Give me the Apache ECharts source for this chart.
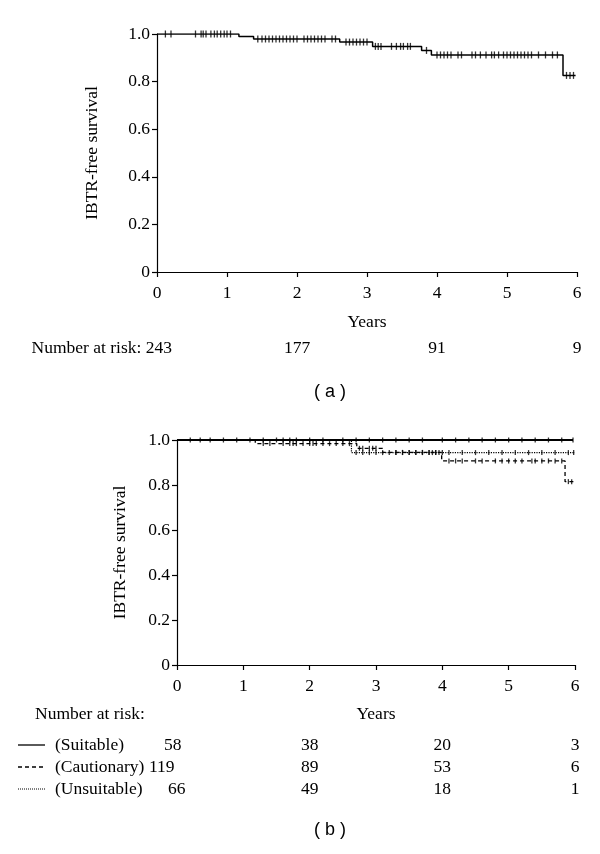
<!DOCTYPE html>
<html>
<head>
<meta charset="utf-8">
<script src="https://cdn.jsdelivr.net/npm/echarts@6/dist/echarts.min.js"></script>
<style>
html,body{margin:0;padding:0;background:#fff;}
#c{width:600px;height:854px;}
</style>
</head>
<body>
<div id="c"></div>
<script>
// ---------- data ----------
const xTicks = [0, 1, 2, 3, 4, 5, 6];

// (a) overall
const overallTimes = [0, 1.17, 1.38, 2.61, 3.08, 3.78, 3.92, 5.80, 5.98];
const overallSurv  = [1.0, 0.99, 0.979, 0.966, 0.948, 0.931, 0.912, 0.826, 0.826];
const overallCensor = [0.12, 0.2, 0.55, 0.63, 0.66, 0.7, 0.77, 0.82, 0.86, 0.91, 0.96, 1.0, 1.05,
  1.44, 1.5, 1.55, 1.6, 1.65, 1.7, 1.75, 1.8, 1.85, 1.9, 1.95, 2.0, 2.1, 2.15, 2.2, 2.25, 2.3, 2.35, 2.4, 2.5, 2.55,
  2.7, 2.75, 2.8, 2.85, 2.9, 2.95, 3.0,
  3.12, 3.16, 3.2, 3.35, 3.42, 3.48, 3.52, 3.58, 3.62, 3.85,
  4.0, 4.05, 4.1, 4.15, 4.2, 4.3, 4.35, 4.5, 4.55, 4.62, 4.7, 4.78, 4.82, 4.88, 4.95, 5.0, 5.05, 5.1,
  5.15, 5.2, 5.25, 5.3, 5.35, 5.45, 5.55, 5.65, 5.72, 5.85, 5.9, 5.95];

// (b) by group
const suitTimes = [0, 5.97];
const suitSurv  = [1.0, 1.0];
const suitCensor = [0.2, 0.35, 0.5, 0.7, 0.9, 1.1, 1.3, 1.5, 1.6, 1.7, 1.8, 2.0, 2.2, 2.5, 2.7, 2.9, 3.1, 3.3,
  3.5, 3.7, 4.0, 4.2, 4.4, 4.6, 4.8, 5.0, 5.2, 5.4, 5.6, 5.8, 5.97];

const cautTimes = [0, 1.18, 2.71, 3.1, 3.99, 5.85, 6.0];
const cautSurv  = [1.0, 0.984, 0.963, 0.945, 0.907, 0.815, 0.815];
const cautCensor = [1.3, 1.4, 1.6, 1.7, 1.75, 1.8, 1.9, 2.0, 2.05, 2.1, 2.2, 2.3, 2.4, 2.5, 2.6, 2.75, 2.8, 2.9,
  2.95, 3.0, 3.3, 3.4, 3.5, 3.6, 3.7, 3.8, 3.9, 3.95, 4.1, 4.2, 4.3, 4.5, 4.6, 4.8, 4.9, 5.0, 5.1, 5.2, 5.35,
  5.4, 5.5, 5.6, 5.7, 5.8, 5.9, 5.95];

const unsTimes = [0, 2.63, 6.0];
const unsSurv  = [1.0, 0.944, 0.944];
const unsCensor = [2.7, 2.8, 2.9, 3.0, 3.1, 3.2, 3.3, 3.4, 3.5, 3.6, 3.7, 3.8, 3.85, 3.9, 4.0, 4.1, 4.3, 4.5,
  4.7, 4.9, 5.1, 5.3, 5.5, 5.7, 5.9, 5.98];

// numbers at risk
const riskYears = [0, 2, 4, 6];
const riskOverall = [243, 177, 91, 9];
const riskSuitable = [58, 38, 20, 3];
const riskCautionary = [119, 89, 53, 6];
const riskUnsuitable = [66, 49, 18, 1];
const groupLabels = ['(Suitable)', '(Cautionary)', '(Unsuitable)'];

// ---------- helpers ----------
function pairs(t, s) { return t.map((v, i) => [v, s[i]]); }
function survAt(t, times, surv) {
  let v = surv[0];
  for (let i = 0; i < times.length; i++) { if (times[i] <= t) v = surv[i]; }
  return v;
}
function censorPts(c, times, surv) { return c.map(t => [t, survAt(t, times, surv)]); }

const SERIF = 'Liberation Serif';
const FS = 17.5;

function xAxisCfg(gi) {
  return {
    gridIndex: gi, type: 'value', min: 0, max: 6, interval: 1,
    axisLine: { show: true, onZero: false, lineStyle: { color: '#000', width: 1.2 } },
    axisTick: { show: true, inside: false, length: 5, lineStyle: { color: '#000', width: 1.2 } },
    axisLabel: { color: '#000', fontFamily: SERIF, fontSize: FS, margin: 12 },
    splitLine: { show: false },
    name: 'Years', nameLocation: 'middle', nameGap: gi === 0 ? 41 : 40,
    nameTextStyle: { color: '#000', fontFamily: SERIF, fontSize: FS }
  };
}
function yAxisCfg(gi) {
  return {
    gridIndex: gi, type: 'value', min: 0, max: 1, interval: 0.2,
    axisLine: { show: true, lineStyle: { color: '#000', width: 1.2 } },
    axisTick: { show: true, inside: false, length: 5, lineStyle: { color: '#000', width: 1.2 } },
    axisLabel: { color: '#000', fontFamily: SERIF, fontSize: FS, margin: 7,
      formatter: v => (v === 0 ? '0' : v.toFixed(1)) },
    splitLine: { show: false },
    name: 'IBTR-free survival', nameLocation: 'middle', nameRotate: 90,
    nameGap: gi === 0 ? 56 : 48,
    nameTextStyle: { color: '#000', fontFamily: SERIF, fontSize: FS }
  };
}
function kmLine(gi, data, type, width) {
  return { type: 'line', xAxisIndex: gi, yAxisIndex: gi, step: 'end', symbol: 'none',
    data: data, lineStyle: { color: '#000', width: width, type: type }, silent: true, z: 3 };
}
function censor(gi, data, h) {
  return { type: 'scatter', xAxisIndex: gi, yAxisIndex: gi, symbol: 'rect', symbolSize: [1.3, h],
    data: data, itemStyle: { color: '#000' }, silent: true, z: 4 };
}

const chart = echarts.init(document.getElementById('c'), null, { renderer: 'canvas' });
chart.setOption({
  animation: false,
  backgroundColor: '#fff',
  grid: [
    { left: 157, top: 34, width: 420, height: 238 },
    { left: 177, top: 440, width: 398, height: 225 }
  ],
  xAxis: [xAxisCfg(0), xAxisCfg(1)],
  yAxis: [yAxisCfg(0), yAxisCfg(1)],
  series: [
    kmLine(0, pairs(overallTimes, overallSurv), 'solid', 1.5),
    censor(0, censorPts(overallCensor, overallTimes, overallSurv), 7),
    kmLine(1, pairs(suitTimes, suitSurv), 'solid', 1.8),
    censor(1, censorPts(suitCensor, suitTimes, suitSurv), 5),
    kmLine(1, pairs(cautTimes, cautSurv), [4, 3], 1.3),
    censor(1, censorPts(cautCensor, cautTimes, cautSurv), 5),
    kmLine(1, pairs(unsTimes, unsSurv), [1.2, 1.2], 1.2),
    censor(1, censorPts(unsCensor, unsTimes, unsSurv), 5)
  ]
});

// ---------- number-at-risk tables & captions ----------
const FONT = FS + 'px "' + SERIF + '"';
const txt = (x, y, s, align, font) => ({
  type: 'text', x: x, y: y,
  style: { text: s, fill: '#000', font: font || FONT,
    textAlign: align || 'center', textVerticalAlign: 'middle' }
});
const gfx = [];
const xa = v => chart.convertToPixel({ xAxisIndex: 0 }, v);
const xb = v => chart.convertToPixel({ xAxisIndex: 1 }, v);

// (a)
riskYears.forEach((yr, i) => {
  if (i === 0) gfx.push(txt(xa(yr) + 15, 348, 'Number at risk: ' + riskOverall[i], 'right'));
  else gfx.push(txt(xa(yr), 348, String(riskOverall[i])));
});
gfx.push(txt(330, 392, '( a )', 'center', '18px "Liberation Sans"'));

// (b)
gfx.push(txt(35, 714, 'Number at risk:', 'left'));
const rowY = [745, 767, 789];
const dashes = [[], [4, 3], [1, 1]];
const firstColX = [164, 149, 168];
[riskSuitable, riskCautionary, riskUnsuitable].forEach((arr, r) => {
  gfx.push({ type: 'line', shape: { x1: 18, y1: rowY[r], x2: 45, y2: rowY[r] },
    style: { stroke: '#000', lineWidth: r === 2 ? 1 : 1.3, lineDash: dashes[r] } });
  gfx.push(txt(55, rowY[r], groupLabels[r], 'left'));
  riskYears.forEach((yr, i) => {
    if (i === 0) gfx.push(txt(firstColX[r], rowY[r], String(arr[i]), 'left'));
    else gfx.push(txt(xb(yr), rowY[r], String(arr[i])));
  });
});
gfx.push(txt(330, 830, '( b )', 'center', '18px "Liberation Sans"'));

chart.setOption({ graphic: gfx });
</script>
</body>
</html>
